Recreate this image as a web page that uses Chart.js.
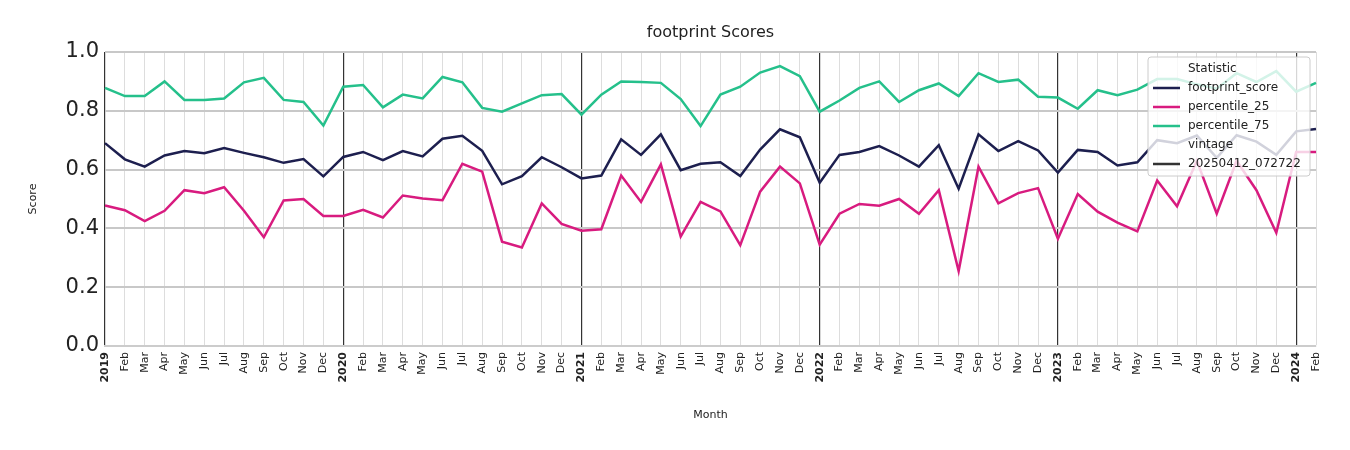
<!DOCTYPE html>
<html>
<head>
<meta charset="utf-8">
<script src="https://cdn.jsdelivr.net/npm/chart.js@4.4.1/dist/chart.umd.min.js"></script>
<style>
  html, body { margin: 0; padding: 0; background: #fff; }
  #wrap { width: 1350px; height: 450px; }
</style>
</head>
<body>
<div id="wrap"><canvas id="c" width="1350" height="450"></canvas></div>
<script>
const MONTHS = ["Jan", "Feb", "Mar", "Apr", "May", "Jun", "Jul", "Aug", "Sep", "Oct", "Nov", "Dec"];
const YEARS = [2019, 2020, 2021, 2022, 2023, 2024];

// month labels, Jan 2019 .. Feb 2024; January shows the year
const labels = [];
YEARS.forEach((y) => {
  const n = y === 2024 ? 2 : 12;
  for (let m = 0; m < n; m++) labels.push(m === 0 ? String(y) : MONTHS[m]);
});

const footprintScore = [
  0.69, 0.635, 0.61, 0.648, 0.663, 0.656, 0.673, 0.657, 0.642, 0.623, 0.636, 0.577,
  0.643, 0.66, 0.632, 0.663, 0.645, 0.705, 0.715, 0.664, 0.55, 0.578, 0.642, 0.608,
  0.57, 0.58, 0.703, 0.65, 0.72, 0.598, 0.62, 0.625, 0.578, 0.668, 0.737, 0.71,
  0.555, 0.65, 0.66, 0.68, 0.648, 0.61, 0.683, 0.535, 0.72, 0.663, 0.697, 0.665,
  0.59, 0.667, 0.66, 0.614, 0.625, 0.70, 0.69, 0.716, 0.64, 0.717, 0.695, 0.65,
  0.73, 0.738,
];
const percentile25 = [
  0.478, 0.462, 0.425, 0.46, 0.53, 0.52, 0.54, 0.46, 0.37, 0.495, 0.50, 0.442,
  0.442, 0.463, 0.437, 0.512, 0.502, 0.496, 0.62, 0.593, 0.355, 0.335, 0.485, 0.415,
  0.392, 0.397, 0.58, 0.49, 0.618, 0.372, 0.49, 0.458, 0.343, 0.525, 0.61, 0.553,
  0.345, 0.45, 0.483, 0.477, 0.50, 0.45, 0.53, 0.255, 0.61, 0.485, 0.52, 0.537,
  0.365, 0.517, 0.457, 0.42, 0.39, 0.563, 0.475, 0.63, 0.45, 0.63, 0.53, 0.385,
  0.66, 0.66,
];
const percentile75 = [
  0.878, 0.85, 0.85, 0.90, 0.837, 0.837, 0.842, 0.897, 0.912, 0.837, 0.83, 0.75,
  0.882, 0.888, 0.812, 0.855, 0.842, 0.915, 0.897, 0.81, 0.797, 0.825, 0.853, 0.857,
  0.787, 0.855, 0.90, 0.898, 0.895, 0.84, 0.748, 0.855, 0.882, 0.93, 0.952, 0.918,
  0.797, 0.835, 0.878, 0.90, 0.83, 0.87, 0.893, 0.85, 0.928, 0.898, 0.906, 0.848,
  0.845, 0.807, 0.87, 0.853, 0.872, 0.908, 0.908, 0.89, 0.875, 0.928, 0.898, 0.935,
  0.865, 0.895,
];

const FONT = "'DejaVu Sans', sans-serif";
const isYear = (i) => /^\d{4}$/.test(labels[i]);

const line = (label, data, color) => ({
  label, data, borderColor: color, backgroundColor: color,
  borderWidth: 2.5, pointRadius: 0, tension: 0,
});

// title + matplotlib-style legend box drawn on top
const overlay = {
  id: "overlay",
  afterDraw(chart) {
    const ctx = chart.ctx;
    ctx.save();
    ctx.fillStyle = "#222";
    ctx.font = `16px ${FONT}`;
    ctx.textAlign = "center";
    ctx.textBaseline = "middle";
    ctx.fillText("footprint Scores", (chart.chartArea.left + chart.chartArea.right) / 2, 33);

    const x = 1148, y = 57, w = 162, h = 119;
    ctx.fillStyle = "rgba(255,255,255,0.8)";
    ctx.strokeStyle = "#ccc";
    ctx.lineWidth = 1;
    ctx.beginPath();
    ctx.roundRect(x, y, w, h, 3);
    ctx.fill();
    ctx.stroke();

    const rows = [
      ["Statistic", null],
      ["footprint_score", "#1d1f4f"],
      ["percentile_25", "#d81b7f"],
      ["percentile_75", "#25c08b"],
      ["vintage", null],
      ["20250412_072722", "#333"],
    ];
    ctx.font = `12px ${FONT}`;
    ctx.textAlign = "left";
    rows.forEach(([txt, col], i) => {
      const ry = y + 12 + i * 19;
      ctx.fillStyle = "#222";
      if (col) {
        ctx.strokeStyle = col;
        ctx.lineWidth = 2.5;
        ctx.beginPath();
        ctx.moveTo(x + 5, ry);
        ctx.lineTo(x + 32, ry);
        ctx.stroke();
      }
      ctx.fillText(txt, x + 40, ry);
    });
    ctx.restore();
  },
};

new Chart(document.getElementById("c"), {
  type: "line",
  data: {
    labels,
    datasets: [
      line("footprint_score", footprintScore, "#1d1f4f"),
      line("percentile_25", percentile25, "#d81b7f"),
      line("percentile_75", percentile75, "#25c08b"),
    ],
  },
  options: {
    responsive: false,
    animation: false,
    layout: { padding: { left: 27, right: 34, top: 52, bottom: 28 } },
    plugins: { legend: { display: false }, title: { display: false }, tooltip: { enabled: false } },
    scales: {
      x: {
        offset: false,
        afterFit: (s) => { s.height = 76; },
        border: { color: "#ccc", width: 2 },
        grid: {
          color: (c) => (isYear(c.index) ? "#333" : "#ddd"),
          lineWidth: (c) => (isYear(c.index) ? 1.2 : 1),
          drawTicks: false,
        },
        ticks: {
          autoSkip: false,
          minRotation: 90,
          maxRotation: 90,
          padding: 6,
          color: "#222",
          font: (c) => ({ family: FONT, size: 11, weight: isYear(c.index) ? "bold" : "normal" }),
        },
        title: { display: true, text: "Month", color: "#222", font: { family: FONT, size: 11 }, padding: 0 },
      },
      y: {
        min: 0,
        max: 1,
        afterFit: (s) => { s.width = 78; },
        border: { display: false },
        grid: { color: "#c8c8c8", lineWidth: 2, drawTicks: false },
        ticks: {
          stepSize: 0.2,
          padding: 6,
          color: "#222",
          font: { family: FONT, size: 21 },
          callback: (v) => v.toFixed(1),
        },
        title: { display: true, text: "Score", color: "#222", font: { family: FONT, size: 11 }, padding: 0 },
      },
    },
  },
  plugins: [overlay],
});
</script>
</body>
</html>
